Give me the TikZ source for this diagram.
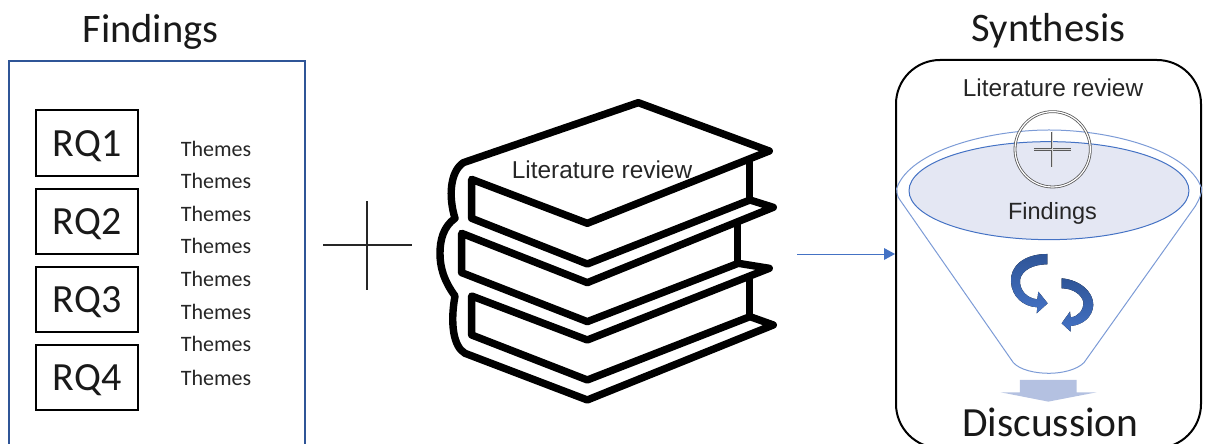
\documentclass[tikz,border=0pt]{standalone}
\usepackage{fontspec}
\setmainfont{Carlito}
\newfontfamily\arialfont{Liberation Sans}
\definecolor{framebl}{HTML}{2F5597}
\definecolor{accbl}{HTML}{4472C4}
\definecolor{funbl}{HTML}{7C9BD6}
\definecolor{ellfill}{HTML}{E4E7F3}
\definecolor{downbl}{HTML}{B4C1E1}
\tikzset{
  title/.style={font=\fontsize{40.5}{44}\selectfont,anchor=base,inner sep=0pt,text=black!90},
  rqbox/.style={draw=black,line width=1.6pt,minimum width=102pt,minimum height=65.5pt,inner sep=0pt,text height=26pt,text depth=0pt,font=\fontsize{40}{44}\selectfont,text=black!90},
  themes/.style={font=\fontsize{22}{26}\selectfont,anchor=base,inner sep=0pt,text=black!85},
  arial/.style={font=\arialfont\fontsize{24.4}{28}\selectfont,anchor=base,inner sep=0pt,text=black!85},
  bookline/.style={line width=7.4pt,line join=round,line cap=round,draw=black},
  funline/.style={draw=funbl,line width=1pt},
  swirl/.style={top color=framebl,bottom color=accbl,draw=none},
}
\begin{document}
\begin{tikzpicture}[x=1pt,y=-1pt]
\useasboundingbox (0,0) rectangle (1205,444);
\begin{scope}
\clip (0,0) rectangle (1205,444);
% Left panel
\node[draw=framebl,line width=2pt,minimum width=296pt,minimum height=420pt,inner sep=0pt] (findingsbox) at (157,271) {};
\node[rqbox] (rq1) at (87,143) {RQ1};
\node[rqbox] (rq2) at (87,221.5) {RQ2};
\node[rqbox] (rq3) at (87,299.5) {RQ3};
\node[rqbox] (rq4) at (87,377.5) {RQ4};
\node[themes] (t1) at (216,156) {Themes};
\node[themes] (t2) at (216,188) {Themes};
\node[themes] (t3) at (216,221) {Themes};
\node[themes] (t4) at (216,253) {Themes};
\node[themes] (t5) at (216,286) {Themes};
\node[themes] (t6) at (216,319) {Themes};
\node[themes] (t7) at (216,351) {Themes};
\node[themes] (t8) at (216,385) {Themes};
\node[title] (findingstitle) at (150.5,43) {Findings};
% Plus
\draw[line width=1.6pt,black!85] (323,245) -- (412,245) (367,201) -- (367,290);
% Book
\begin{scope}[shift={(420,90)},x=0.3333pt,y=-0.3333pt]
\draw[bookline] (105,385) .. controls (85,320) and (90,245) .. (130,218) -- (655,38) -- (1048,183) -- (502,400) -- (155,268) -- (155,385) -- (502,522) -- (990,330) -- (1060,352) -- (502,578) -- (125,430) -- (125,548) -- (502,695) -- (955,520) -- (1048,535) -- (502,750) -- (155,618) -- (155,735) -- (502,870) -- (990,680) -- (1060,705) -- (502,930) -- (135,790) .. controls (100,770) and (90,700) .. (105,618) .. controls (70,570) and (60,530) .. (60,490) .. controls (60,450) and (70,410) .. (105,385) -- cycle;
\draw[bookline,line cap=butt] (988,205) -- (988,330) (952,400) -- (952,520) (988,565) -- (988,680);
\end{scope}
\node[arial] (lit1) at (602,178) {Literature review};
% Right panel
\node[draw=black,line width=2pt,rounded corners=44pt,minimum width=305pt,minimum height=388pt,inner sep=0pt] (synthbox) at (1048.5,254) {};
\node[title] (synthtitle) at (1048.5,42) {Synthesis};
\node[arial] (lit2) at (1053,96) {Literature review};
\begin{scope}[shift={(880,50)},x=0.3333pt,y=-0.3333pt]
\draw[funline] (50,415) .. controls (90,300) and (330,240) .. (507,240) .. controls (690,240) and (925,300) .. (965,415) .. controls (965,430) and (960,445) .. (945,470) -- (612,938) .. controls (590,960) and (545,970) .. (507,970) .. controls (465,970) and (420,960) .. (400,938) -- (60,450) .. controls (52,440) and (50,430) .. (50,415) -- cycle;
\draw[draw=accbl,line width=1pt,fill=ellfill] (507,422) ellipse [x radius=420,y radius=147];
\draw[draw=black!65,line width=.8pt,double=white,double distance=1.2pt] (518,298) circle [radius=113];
\draw[draw=black!65,line width=.8pt,double=gray!30,double distance=.8pt] (462,298) -- (572,298) (516,245) -- (516,352);
% swirl arrows
\fill[swirl] (502,612) .. controls (430,612) and (390,650) .. (393,695) .. controls (395,740) and (430,770) .. (472,772) -- (470,790) -- (503,760) -- (475,725) -- (472,748) .. controls (440,745) and (418,720) .. (420,690) .. controls (425,660) and (460,643) .. (502,643) -- cycle;
\fill[swirl] (545,685) .. controls (600,690) and (640,725) .. (640,765) .. controls (638,800) and (610,825) .. (572,828) -- (572,845) -- (545,820) -- (570,785) -- (572,802) .. controls (595,800) and (612,780) .. (610,755) .. controls (605,735) and (580,715) .. (545,715) -- cycle;
% down arrow
\fill[downbl] (420,990) -- (590,990) -- (590,1027) -- (650,1027) -- (505,1055) -- (362,1027) -- (420,1027) -- cycle;
\end{scope}
\node[arial,font=\arialfont\fontsize{23.5}{27}\selectfont] (find2) at (1052.5,219) {Findings};
\node[title,font=\fontsize{41.5}{46}\selectfont] (disc) at (1050.5,436) {Discussion};
% connector
\coordinate (arrowstart) at (797,254);
\draw[draw=accbl,line width=1pt] (arrowstart) -- (884,254);
\fill[accbl] (884,248) -- (synthbox.west |- arrowstart) -- (884,260) -- cycle;
\end{scope}
\end{tikzpicture}
\end{document}
